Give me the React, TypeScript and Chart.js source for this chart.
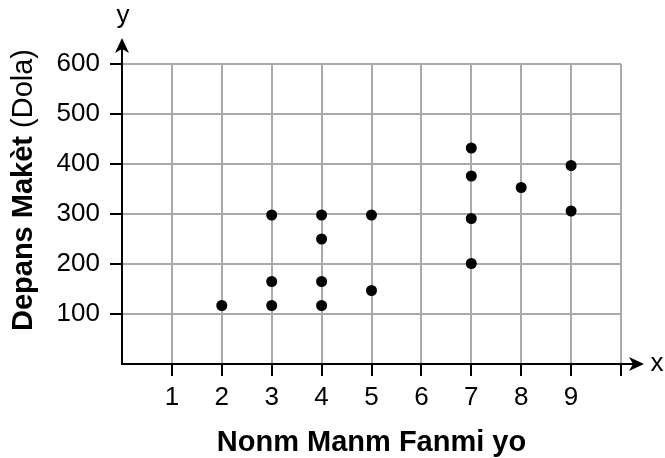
import React, { useEffect, useRef } from "react";
import { Chart, registerables } from "chart.js";

Chart.register(...registerables);

const xValues = [2, 3, 3, 3, 4, 4, 4, 4, 5, 5, 7, 7, 7, 7, 8, 9, 9];
const yValues = [117, 298, 165, 117, 298, 250, 165, 117, 298, 147, 432, 376, 291, 201, 353, 397, 306];
const xTicks = [1, 2, 3, 4, 5, 6, 7, 8, 9, 10];
const xTickLabels = ["1", "2", "3", "4", "5", "6", "7", "8", "9", ""];
const yTicks = [100, 200, 300, 400, 500, 600];
const xTitle = "Nonm Manm Fanmi yo";
const yTitleBold = "Depans Makèt";
const yTitleRegular = " (Dola)";

const FONT = "'Liberation Sans', Arial, Helvetica, sans-serif";

const axesPlugin = {
  id: "axesPlugin",
  afterDraw(chart: any) {
    const { ctx, chartArea } = chart;
    const { left, right, top, bottom } = chartArea;
    ctx.save();
    ctx.strokeStyle = "#000";
    ctx.fillStyle = "#000";
    ctx.lineWidth = 2;
    // x axis
    const xTip = right + 23;
    ctx.beginPath();
    ctx.moveTo(left - 1, bottom);
    ctx.lineTo(xTip - 6, bottom);
    ctx.stroke();
    ctx.beginPath();
    ctx.moveTo(xTip, bottom);
    ctx.lineTo(xTip - 15, bottom - 7);
    ctx.lineTo(xTip - 11, bottom);
    ctx.lineTo(xTip - 15, bottom + 7);
    ctx.closePath();
    ctx.fill();
    // y axis
    const yTip = top - 26;
    ctx.beginPath();
    ctx.moveTo(left, bottom + 1);
    ctx.lineTo(left, yTip + 6);
    ctx.stroke();
    ctx.beginPath();
    ctx.moveTo(left, yTip);
    ctx.lineTo(left - 7, yTip + 15);
    ctx.lineTo(left, yTip + 11);
    ctx.lineTo(left + 7, yTip + 15);
    ctx.closePath();
    ctx.fill();
    // axis letters
    ctx.font = `26px ${FONT}`;
    ctx.textAlign = "center";
    ctx.textBaseline = "middle";
    ctx.fillText("x", right + 36, bottom);
    ctx.textBaseline = "alphabetic";
    ctx.fillText("y", left + 1, 23);
    // x title
    ctx.font = `bold 29px ${FONT}`;
    ctx.textAlign = "center";
    ctx.textBaseline = "middle";
    ctx.fillText(xTitle, (left + right) / 2, 443);
    // y title (mixed weight)
    ctx.translate(24, 190);
    ctx.rotate(-Math.PI / 2);
    ctx.font = `bold 29px ${FONT}`;
    const wb = ctx.measureText(yTitleBold).width;
    ctx.font = `29px ${FONT}`;
    const wr = ctx.measureText(yTitleRegular).width;
    const start = -(wb + wr) / 2;
    ctx.textAlign = "left";
    ctx.textBaseline = "middle";
    ctx.font = `bold 29px ${FONT}`;
    ctx.fillText(yTitleBold, start, 0);
    ctx.font = `29px ${FONT}`;
    ctx.fillText(yTitleRegular, start + wb, 0);
    ctx.restore();
  },
};

export default function App() {
  const canvasRef = useRef<HTMLCanvasElement | null>(null);

  useEffect(() => {
    const canvas = canvasRef.current;
    if (!canvas) return;
    const data = xValues.map((x, i) => ({ x, y: yValues[i] }));
    const chart = new Chart(canvas, {
      type: "scatter",
      data: {
        datasets: [
          {
            data,
            backgroundColor: "#000",
            borderColor: "#000",
            borderWidth: 0,
            pointRadius: 5.5,
          },
        ],
      },
      plugins: [axesPlugin],
      options: {
        responsive: false,
        animation: false,
        devicePixelRatio: 1,
        layout: { padding: { left: 37, right: 44, top: 64, bottom: 34 } },
        plugins: {
          legend: { display: false },
          tooltip: { enabled: false },
          title: { display: false },
        },
        scales: {
          x: {
            type: "linear",
            min: 0,
            max: 10,
            afterBuildTicks: (scale: any) => {
              scale.ticks = xTicks.map((v) => ({ value: v }));
            },
            afterFit: (scale: any) => {
              scale.height = 60;
            },
            ticks: {
              autoSkip: false,
              maxRotation: 0,
              padding: 6,
              color: "#000",
              font: { family: FONT, size: 26 },
              callback: (v: any) => xTickLabels[xTicks.indexOf(Number(v))] ?? "",
            },
            grid: {
              color: "#aaaaaa",
              lineWidth: 2,
              tickColor: "#000",
              tickWidth: 2,
              tickLength: 12,
            },
            border: { display: false },
          },
          y: {
            type: "linear",
            min: 0,
            max: 600,
            afterBuildTicks: (scale: any) => {
              scale.ticks = yTicks.map((v) => ({ value: v }));
            },
            afterFit: (scale: any) => {
              scale.width = 85;
            },
            ticks: {
              autoSkip: false,
              padding: 10,
              color: "#000",
              font: { family: FONT, size: 26 },
              callback: (v: any) => String(v),
            },
            grid: {
              color: "#aaaaaa",
              lineWidth: 2,
              tickColor: "#000",
              tickWidth: 2,
              tickLength: 12,
            },
            border: { display: false },
          },
        },
      },
    });
    return () => chart.destroy();
  }, []);

  return (
    <div style={{ position: "fixed", left: 0, top: 0, width: 665, height: 458, background: "#fff" }}>
      <canvas ref={canvasRef} width={665} height={458} style={{ display: "block" }} />
    </div>
  );
}
